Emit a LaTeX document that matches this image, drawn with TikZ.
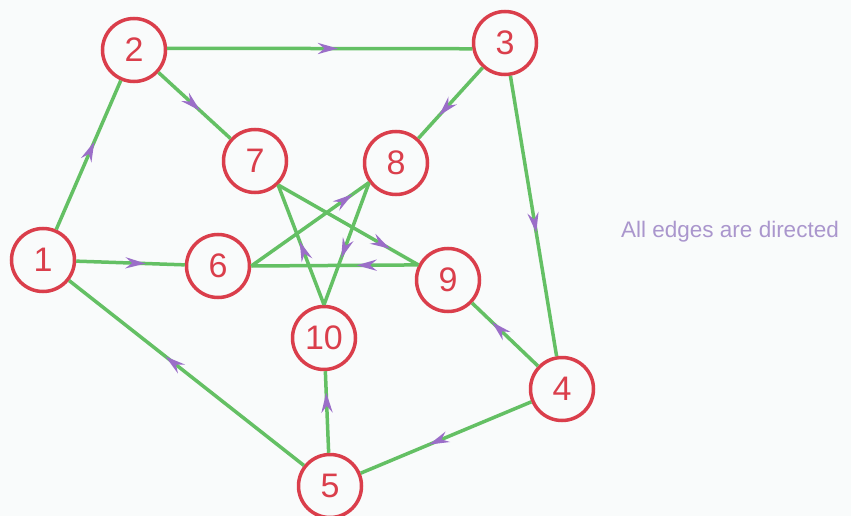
\documentclass[tikz,border=0pt]{standalone}
\usepackage{fontspec}
\setmainfont{Liberation Sans}
\usetikzlibrary{arrows.meta,decorations.markings}
\definecolor{nodered}{RGB}{218,62,75}
\definecolor{edgegreen}{RGB}{100,192,100}
\definecolor{arrowpurple}{RGB}{155,110,200}
\definecolor{textpurple}{RGB}{170,150,205}
\definecolor{bgwhite}{RGB}{249,251,251}
\tikzset{
  vtx/.style={circle, draw=nodered, line width=3.5pt, minimum size=63pt, inner sep=0pt,
    text=nodered, font=\fontsize{34}{34}\selectfont},
  edge/.style={draw=edgegreen, line width=3.5pt, postaction={decorate},
    decoration={markings, mark=at position #1 with {\arrow[arrowpurple]{Stealth[length=20pt,width=11pt]}}}},
  edge/.default=0.55
}
\begin{document}
\begin{tikzpicture}[x=1pt,y=-1pt]
\fill[bgwhite] (0,0) rectangle (851,516);
\useasboundingbox (0,0) rectangle (851,516);
\node[vtx] (n1) at (43,260) {1};
\node[vtx] (n2) at (134,50) {2};
\node[vtx] (n3) at (505,43) {3};
\node[vtx] (n4) at (562,389) {4};
\node[vtx] (n5) at (330,486) {5};
\node[vtx] (n6) at (218,266) {6};
\node[vtx] (n7) at (255,161) {7};
\node[vtx] (n8) at (396,163) {8};
\node[vtx] (n9) at (448,280) {9};
\node[vtx] (n10) at (324,338) {10};
\node[anchor=west, inner sep=0pt, text=textpurple, font=\fontsize{22.5}{22.5}\selectfont] (cap) at (621,232) {All edges are directed};
% outer cycle
\draw[edge=0.59] (n1) -- (n2);
\draw[edge=0.56] (n2.3) -- (n3.190);
\draw[edge=0.56] (n3) -- (n4);
\draw[edge=0.6] (n4) -- (n5);
\draw[edge=0.59] (n5) -- (n1);
% spokes
\draw[edge=0.64] (n1) -- (n6);
\draw[edge=0.58] (n2) -- (n7);
\draw[edge=0.68] (n3) -- (n8);
\draw[edge=0.7] (n4) -- (n9);
\draw[edge=0.74] (n5) -- (n10);
% pentagram
\draw[edge=0.86] (n6.0) -- (n8.216);
\draw[edge=0.62] (n8.216) -- (n10.90);
\draw[edge=0.53] (n10.90) -- (n7.-46);
\draw[edge=0.8] (n7.-46) -- (n9.153);
\draw[edge=0.37] (n9.153) -- (n6.0);
\end{tikzpicture}
\end{document}
